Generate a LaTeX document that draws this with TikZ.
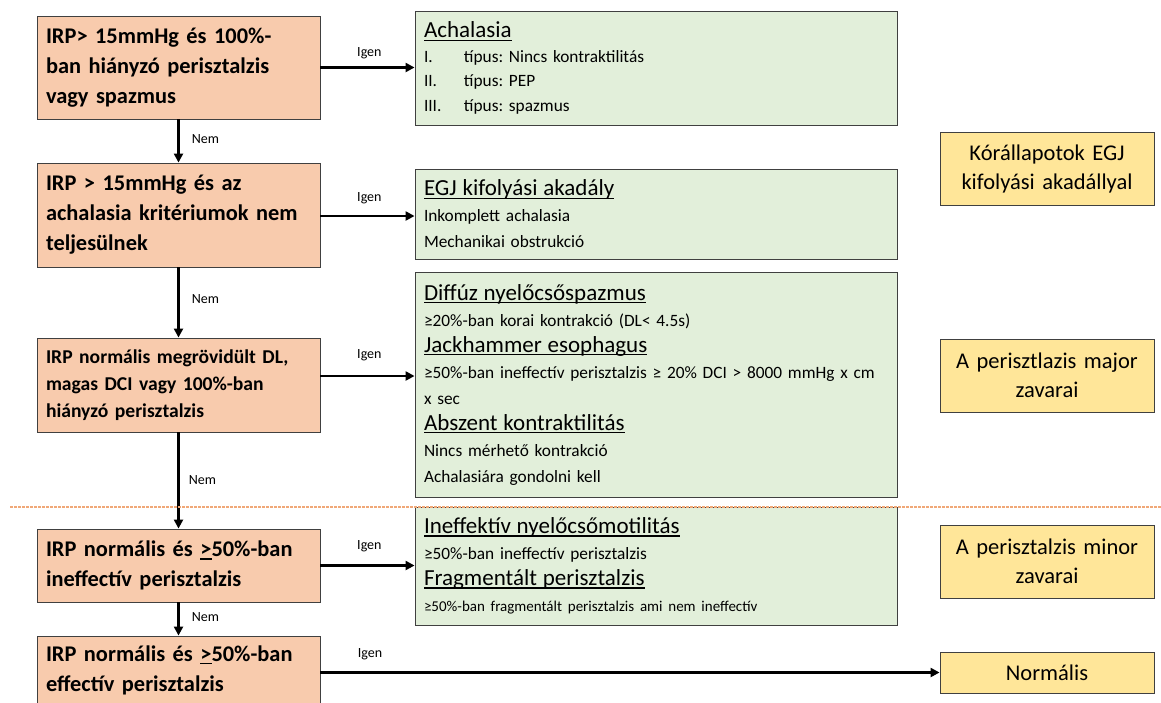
\documentclass[tikz,border=0pt]{standalone}
\usepackage{fontspec}
\setmainfont{Carlito}
\usetikzlibrary{arrows.meta,calc}
\frenchspacing
\definecolor{peach}{HTML}{F8CBAD}
\definecolor{mint}{HTML}{E2EFDA}
\definecolor{sand}{HTML}{FFE699}
\definecolor{edge}{HTML}{404040}
\definecolor{sepcol}{HTML}{F0A878}
\newcommand{\ul}[1]{\leavevmode\setbox0\hbox{#1}\rlap{\rule[-3.2pt]{\wd0}{1.5pt}}\box0\relax}
\newcommand{\hd}[1]{{\fontsize{23}{26}\selectfont\ul{#1}}}
\tikzset{
  qbox/.style={draw=edge, line width=0.9pt, fill=peach, minimum width=283pt, text width=265pt, align=left, inner sep=0pt, font=\fontsize{22.4}{30}\selectfont\bfseries},
  gbox/.style={draw=edge, line width=0.9pt, fill=mint, minimum width=482pt, text width=464pt, align=left, inner sep=0pt, font=\fontsize{17.3}{26}\selectfont},
  ybox/.style={draw=edge, line width=0.9pt, fill=sand, minimum width=214pt, text width=208pt, align=center, inner sep=0pt, font=\fontsize{22.5}{29}\selectfont},
  flow/.style={line width=2.8pt, -{Triangle[length=9pt,width=9pt]}},
  lbl/.style={font=\fontsize{14}{15}\selectfont, inner sep=0pt},
  sepline/.style={draw=sepcol, line width=1.3pt, dash pattern=on 2.5pt off 1.5pt},
}
\begin{document}
\begin{tikzpicture}[x=1pt,y=-1pt]
\clip (0,0) rectangle (1161,702);
\fill[white] (0,0) rectangle (1161,702);
% question boxes
\node[qbox, minimum height=103pt] (b1) at (178.5,67.5) {IRP> 15mmHg és 100\%-\\ban hiányzó perisztalzis\\vagy spazmus};
\node[qbox, minimum height=104pt] (b2) at (178.5,215) {IRP > 15mmHg és az\\achalasia kritériumok nem\\teljesülnek};
\node[qbox, minimum height=94pt, font=\fontsize{19.6}{27}\selectfont\bfseries] (b3) at (178.5,385) {IRP normális megrövidült DL,\\magas DCI vagy 100\%-ban\\hiányzó perisztalzis};
\node[qbox, minimum height=73pt] (b4) at (178.5,565.5) {IRP normális és \ul{>}50\%-ban\\ineffectív perisztalzis};
\node[qbox, minimum height=68pt] (b5) at (178.5,670) {IRP normális és \ul{>}50\%-ban\\effectív perisztalzis};
% result boxes
\node[gbox, minimum height=114pt, font=\fontsize{17.3}{24.5}\selectfont] (g1) at (656,68) {\hd{Achalasia}\\
\makebox[40pt][l]{I.}típus: Nincs kontraktilitás\\
\makebox[40pt][l]{II.}típus: PEP\\
\makebox[40pt][l]{III.}típus: spazmus};
\node[gbox, minimum height=90pt] (g2) at (656,214) {\hd{EGJ kifolyási akadály}\\Inkomplett achalasia\\Mechanikai obstrukció};
\node[gbox, minimum height=225pt] (g3) at (656,384.5) {\hd{Diffúz nyelőcsőspazmus}\\
≥20\%-ban korai kontrakció (DL< 4.5s)\\
\hd{Jackhammer esophagus}\\
≥50\%-ban ineffectív perisztalzis ≥ 20\% DCI > 8000 mmHg x cm\\
x sec\\
\hd{Abszent kontraktilitás}\\
Nincs mérhető kontrakció\\
Achalasiára gondolni kell};
\node[gbox, minimum height=118pt] (g4) at (656,566) {\hd{Ineffektív nyelőcsőmotilitás}\\
≥50\%-ban ineffectív perisztalzis\\
\hd{Fragmentált perisztalzis}\\
{\fontsize{15}{26}\selectfont ≥50\%-ban fragmentált perisztalzis ami nem ineffectív}};
% category boxes
\node[ybox, minimum height=73pt] (y1) at (1047,168.5) {Kórállapotok EGJ\\kifolyási akadállyal};
\node[ybox, minimum height=73pt] (y2) at (1047,375.5) {A perisztlazis major\\zavarai};
\node[ybox, minimum height=73pt] (y3) at (1047,561.5) {A perisztalzis minor\\zavarai};
\node[ybox, minimum height=41pt] (y4) at (1047,672.5) {Normális};
% vertical "Nem" arrows
\draw[flow] (b1.south) -- node[lbl, right=12pt, pos=0.45] (n1) {Nem} (b2.north);
\draw[flow] (b2.south) -- node[lbl, right=12pt, pos=0.45] (n2) {Nem} (b3.north);
\draw[flow] (b3.south) -- node[lbl, right=9pt, pos=0.5] (n3) {Nem} (b4.north);
\draw[flow] (b4.south) -- node[lbl, right=12pt, pos=0.45] (n4) {Nem} (b5.north);
% horizontal "Igen" arrows
\coordinate (a1) at (b1.east);
\coordinate (a2) at ([yshift=-1pt]b2.east);
\coordinate (a3) at ([yshift=9pt]b3.east);
\coordinate (a4) at (b4.east);
\coordinate (a5) at (b5.east |- y4.west);
\draw[flow] (a1) -- node[lbl, above=7pt, pos=0.52] (i1) {Igen} (a1 -| g1.west);
\draw[flow] (a2) -- node[lbl, above=11pt, pos=0.52] (i2) {Igen} (a2 -| g2.west);
\draw[flow] (a3) -- node[lbl, above=14pt, pos=0.52] (i3) {Igen} (a3 -| g3.west);
\draw[flow] (a4) -- node[lbl, above=12pt, pos=0.52] (i4) {Igen} (a4 -| g4.west);
\draw[flow] (a5) -- node[lbl, above=11pt, pos=0.08] (i5) {Igen} (y4.west);
% separator
\coordinate (s1) at (10,507);
\coordinate (s2) at (1161,507);
\draw[sepline] (s1) -- (s2);
\end{tikzpicture}
\end{document}
